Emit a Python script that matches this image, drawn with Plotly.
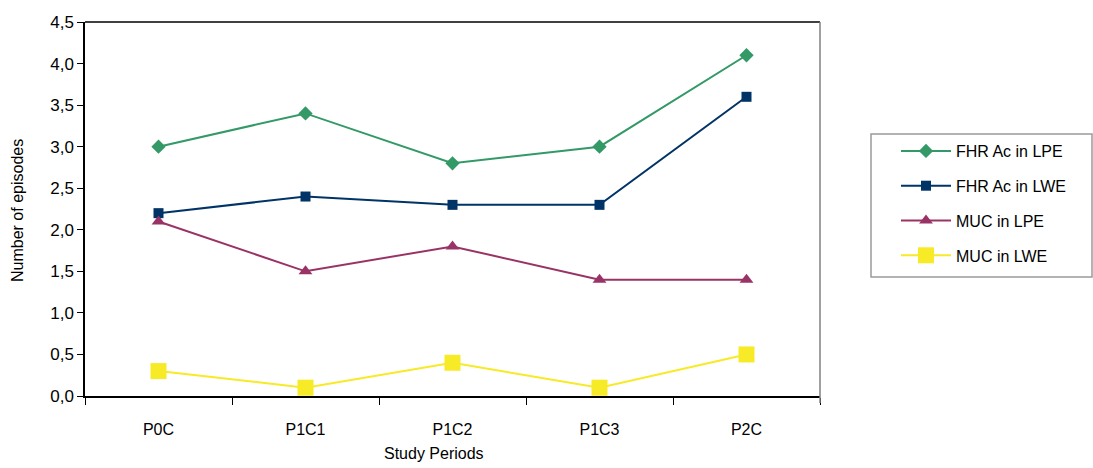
import plotly.graph_objects as go

# Study periods (categories on the x axis)
periods = ["P0C", "P1C1", "P1C2", "P1C3", "P2C"]

# Mean number of episodes per period
fhr_lpe = [3.0, 3.4, 2.8, 3.0, 4.1]
fhr_lwe = [2.2, 2.4, 2.3, 2.3, 3.6]
muc_lpe = [2.1, 1.5, 1.8, 1.4, 1.4]
muc_lwe = [0.3, 0.1, 0.4, 0.1, 0.5]

series = [
    ("FHR Ac in LPE", fhr_lpe, "#339966", "diamond", 11),
    ("FHR Ac in LWE", fhr_lwe, "#003366", "square", 10),
    ("MUC in LPE", muc_lpe, "#993366", "triangle-up", 12),
    ("MUC in LWE", muc_lwe, "#F7EA26", "square", 16),
]

FONT = "Liberation Sans, Arial, sans-serif"

# plot area in pixels
L, R, T, B = 85, 820, 22, 396
W, H = R - L, B - T


def px(x):
    return (x - L) / W


def py(y):
    return (B - y) / H


fig = go.Figure()
for i, (name, vals, color, symbol, size) in enumerate(series):
    fig.add_trace(go.Scatter(
        x=periods, y=vals, name=name, mode="lines+markers",
        legendgroup=f"g{i}",
        line=dict(color=color, width=2),
        marker=dict(color=color, symbol=symbol, size=size, line=dict(width=0)),
    ))

fig.update_layout(
    width=1093, height=468,
    margin=dict(l=L, r=1093 - R, t=T, b=468 - B),
    paper_bgcolor="white", plot_bgcolor="white",
    font=dict(family=FONT, size=16, color="#000000"),
    separators=", ",
    showlegend=True,
    legend=dict(
        x=px(896), y=py(134), xanchor="left", yanchor="top",
        borderwidth=0, bgcolor="rgba(0,0,0,0)",
        font=dict(family=FONT, size=16, color="#000000"),
        tracegroupgap=11,
        itemwidth=50,
    ),
    xaxis=dict(
        type="category", range=[-0.5, 4.5],
        showline=True, linecolor="#000000", linewidth=1.5,
        ticks="outside", tickson="boundaries", ticklen=7, tickcolor="#000000",
        ticklabelstandoff=18,
        showgrid=False, zeroline=False,
        tickfont=dict(family=FONT, size=16),
    ),
    yaxis=dict(
        range=[0, 4.5], dtick=0.5, tickformat=".1f",
        showline=True, linecolor="#000000", linewidth=1.5,
        ticks="outside", ticklen=6, tickcolor="#000000",
        showgrid=False, zeroline=False,
        tickfont=dict(family=FONT, size=17),
    ),
    annotations=[
        dict(text="Study Periods", xref="paper", yref="paper",
             x=px(434), y=py(453),
             xanchor="center", yanchor="middle", showarrow=False,
             font=dict(family=FONT, size=16)),
        dict(text="Number of episodes", xref="paper", yref="paper",
             x=px(17), y=py(211), textangle=-90,
             xanchor="center", yanchor="middle", showarrow=False,
             font=dict(family=FONT, size=16)),
    ],
    shapes=[
        # top and right frame of the plot area
        dict(type="line", xref="paper", yref="paper", x0=0, x1=1, y0=1, y1=1,
             line=dict(color="#000000", width=1.5)),
        dict(type="line", xref="paper", yref="paper", x0=1, x1=1, y0=1, y1=py(403),
             line=dict(color="#808080", width=1.5)),
        # legend frame
        dict(type="rect", xref="paper", yref="paper",
             x0=px(871), x1=px(1092), y0=py(277), y1=py(134),
             line=dict(color="#9a9a9a", width=1.5), fillcolor="rgba(0,0,0,0)"),
    ],
)

fig.write_html("out.html")
